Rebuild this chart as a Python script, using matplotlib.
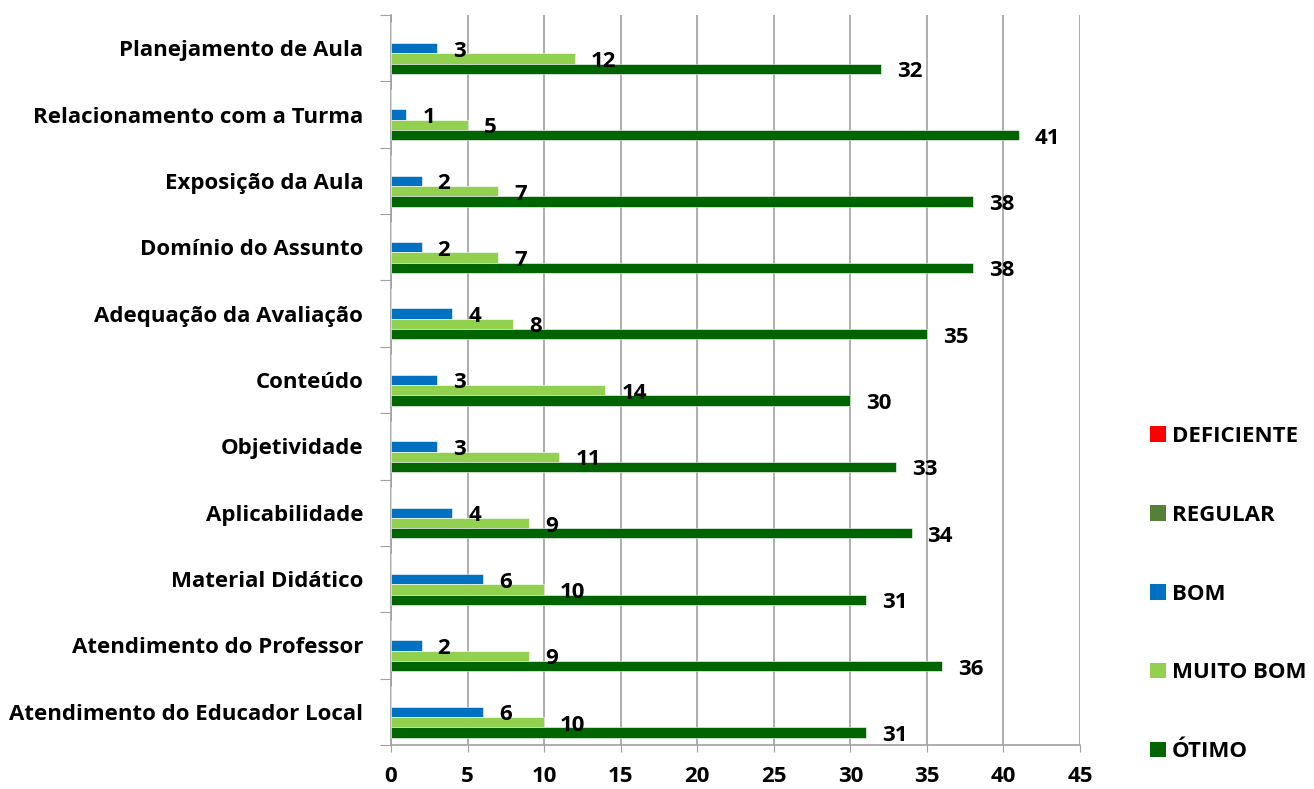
import matplotlib
matplotlib.use("Agg")
import matplotlib.pyplot as plt
from matplotlib.patches import Patch
import numpy as np

plt.rcParams['font.family'] = ['Open Sans', 'DejaVu Sans']
plt.rcParams['font.weight'] = 'bold'

categories = ["Planejamento de Aula", "Relacionamento com a Turma", "Exposição da Aula",
              "Domínio do Assunto", "Adequação da Avaliação", "Conteúdo", "Objetividade",
              "Aplicabilidade", "Material Didático", "Atendimento do Professor",
              "Atendimento do Educador Local"]
series_names = ["DEFICIENTE", "REGULAR", "BOM", "MUITO BOM", "ÓTIMO"]
deficiente = [0, 0, 0, 0, 0, 0, 0, 0, 0, 0, 0]
regular = [0, 0, 0, 0, 0, 0, 0, 0, 0, 0, 0]
bom = [3, 1, 2, 2, 4, 3, 3, 4, 6, 2, 6]
muito_bom = [12, 5, 7, 7, 8, 14, 11, 9, 10, 9, 10]
otimo = [32, 41, 38, 38, 35, 30, 33, 34, 31, 36, 31]
colors = ["#FF0000", "#538135", "#0070C0", "#92D050", "#006400"]
labelled = [False, False, True, True, True]

FS = 16

fig = plt.figure(figsize=(13.14, 7.89), dpi=100)
ax = fig.add_axes([391/1314, 1-745/789, (1080-391)/1314, (745-15)/789])

y = np.arange(len(categories))
h = 0.155
all_series = [deficiente, regular, bom, muito_bom, otimo]
for k, (vals, c, lab) in enumerate(zip(all_series, colors, labelled)):
    pos = y + (k - 2) * h
    ax.barh(pos, vals, height=h, color=c, edgecolor='white', linewidth=0.4, zorder=3)
    if lab:
        for p, v in zip(pos, vals):
            ax.annotate(str(v), xy=(v, p), xytext=(16, -3), textcoords='offset pixels',
                        ha='left', va='center', fontsize=FS, fontweight='bold', color='black', zorder=4)

ax.set_xlim(0, 45)
ax.set_ylim(len(categories) - 0.5, -0.5)
ax.set_xticks(np.arange(0, 46, 5))
ax.tick_params(axis='x', labelsize=FS, length=5, color='#A0A0A0', pad=10)
for t in ax.get_xticklabels():
    t.set_fontweight('bold')
ax.set_yticks(np.arange(-0.5, len(categories), 1.0))
ax.set_yticklabels([])
ax.set_yticks(y, minor=True)
ax.set_yticklabels(categories, minor=True, fontsize=FS, fontweight='bold')
ax.tick_params(axis='y', which='major', length=8, color='#A0A0A0')
ax.tick_params(axis='y', which='minor', length=0, pad=20)
ax.grid(axis='x', color='#A0A0A0', linewidth=1.2, zorder=0)
for s in ['top', 'right']:
    ax.spines[s].set_visible(False)
ax.spines['left'].set_color('#A0A0A0')
ax.spines['bottom'].set_color('#A0A0A0')
ax.spines['left'].set_linewidth(1.2)
ax.spines['bottom'].set_linewidth(1.2)

handles = [Patch(facecolor=c, edgecolor='none') for c in colors]
leg = fig.legend(handles, series_names, loc='upper left', bbox_to_anchor=(1130/1314, 1-406/789),
                 frameon=False, handlelength=0.7, handleheight=0.7, handletextpad=0.3,
                 labelspacing=2.6, prop={'size': FS, 'weight': 'bold'})

fig.savefig("out.png", dpi=100)
